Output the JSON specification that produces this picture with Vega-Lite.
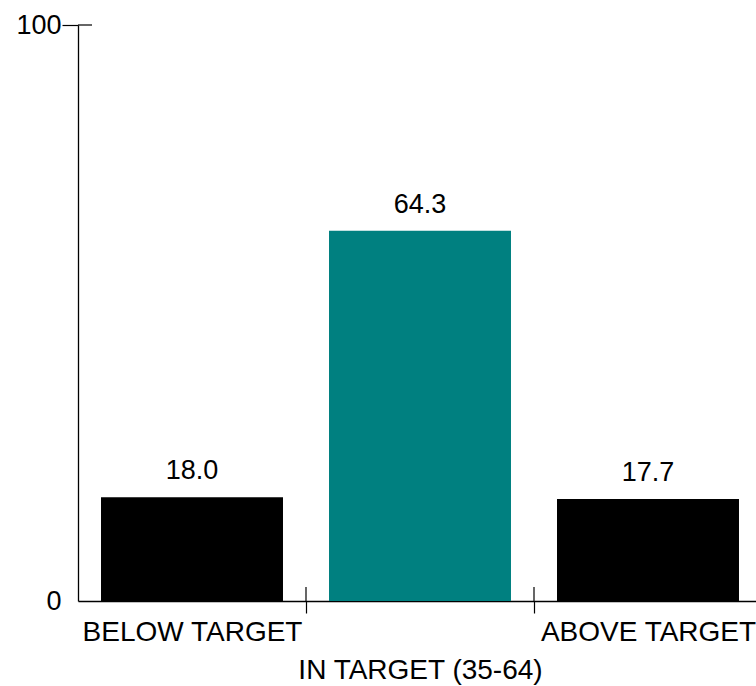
{
  "$schema": "https://vega.github.io/schema/vega-lite/v6.json",
  "width": 678,
  "height": 576,
  "autosize": {"type": "none"},
  "padding": {"left": 78, "top": 25, "right": 0, "bottom": 85},
  "config": {"view": {"stroke": null}, "font": "Liberation Sans"},
  "data": {"values": [
    {"category": "BELOW TARGET", "value": 18.0},
    {"category": "IN TARGET (35-64)", "value": 64.3},
    {"category": "ABOVE TARGET", "value": 17.7}
  ]},
  "encoding": {
    "x": {
      "field": "category", "type": "nominal", "sort": null,
      "scale": {"range": [0, 684], "paddingInner": 0.2018, "paddingOuter": 0.1009},
      "axis": {
        "title": null,
        "bandPosition": 0,
        "tickOffset": -23,
        "labelOffset": 23,
        "labelAngle": 0,
        "labelLimit": 0,
        "labelAlign": "center",
        "tickSize": 12,
        "tickWidth": 1.2,
        "tickColor": {"condition": {"test": "datum.value === 'BELOW TARGET'", "value": "transparent"}, "value": "#000000"},
        "domainColor": "#000000",
        "domainWidth": 1.3,
        "labelFontSize": 28,
        "labelColor": "#000000",
        "labelBaseline": "alphabetic",
        "labelPadding": 27,
        "labelLineHeight": 38,
        "labelOverlap": false,
        "labelExpr": "datum.value === 'IN TARGET (35-64)' ? ['', datum.label] : datum.label"
      }
    },
    "y": {
      "field": "value", "type": "quantitative",
      "scale": {"domain": [0, 100], "nice": false},
      "axis": {
        "title": null,
        "values": [0, 100],
        "grid": false,
        "tickSize": 16,
        "tickWidth": 1.2,
        "tickColor": {"condition": {"test": "datum.value === 0", "value": "transparent"}, "value": "#000000"},
        "domainColor": "#000000",
        "domainWidth": 1.3,
        "labelFontSize": 27,
        "labelColor": "#000000",
        "labelPadding": 1,
        "labelOverlap": false
      }
    }
  },
  "layer": [
    {
      "mark": {"type": "bar"},
      "encoding": {
        "color": {
          "field": "category", "type": "nominal", "legend": null,
          "scale": {"domain": ["BELOW TARGET", "IN TARGET (35-64)", "ABOVE TARGET"], "range": ["#000000", "#008080", "#000000"]}
        }
      }
    },
    {
      "mark": {"type": "text", "dy": -18, "baseline": "alphabetic", "fontSize": 27, "color": "#000000"},
      "encoding": {"text": {"field": "value", "type": "quantitative", "format": ".1f"}}
    },
    {
      "transform": [{"filter": "datum.category !== 'BELOW TARGET'"}],
      "mark": {"type": "rule", "xOffset": -114, "strokeWidth": 1.2, "color": "#000000"},
      "encoding": {"y": {"datum": 0}, "y2": {"datum": 2.43}}
    },
    {
      "transform": [{"filter": "datum.category === 'BELOW TARGET'"}],
      "mark": {"type": "rule", "xOffset": -114, "x2Offset": -100, "strokeWidth": 1.2, "color": "#000000"},
      "encoding": {"y": {"datum": 100}, "x2": {"field": "category"}}
    }
  ]
}
